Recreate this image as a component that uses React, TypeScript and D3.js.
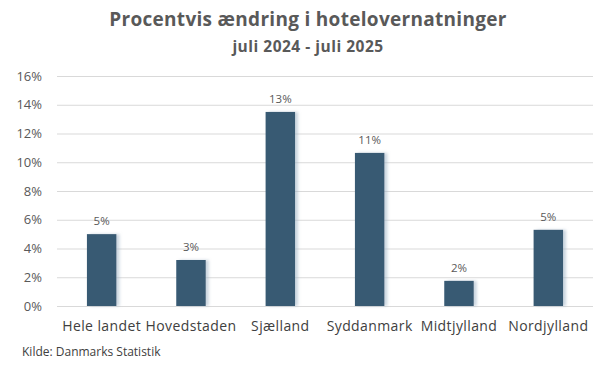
import {useEffect, useRef} from "react";
import * as d3 from "d3";

const regions = ["Hele landet", "Hovedstaden", "Sjælland", "Syddanmark", "Midtjylland", "Nordjylland"];
const changes = [5.0, 3.2, 13.5, 10.65, 1.75, 5.3];
const valueLabels = ["5%", "3%", "13%", "11%", "2%", "5%"];
const yTicks = [0, 2, 4, 6, 8, 10, 12, 14, 16];

export default function App() {
    const ref = useRef<SVGSVGElement>(null);

    useEffect(() => {
        const width = 616;
        const height = 366;
        const marginLeft = 57;
        const marginRight = 23;
        const marginTop = 76;
        const marginBottom = 60;
        const font = "'Open Sans', sans-serif";
        const textColor = "#595959";

        const svg = d3.select(ref.current!);
        svg.selectAll("*").remove();
        svg.attr("width", width).attr("height", height).attr("viewBox", [0, 0, width, height]);

        // shadow on the right side of bars
        const defs = svg.append("defs");
        const filter = defs.append("filter").attr("id", "shadow")
            .attr("x", "-20%").attr("y", "-5%").attr("width", "160%").attr("height", "110%");
        filter.append("feDropShadow")
            .attr("dx", 3).attr("dy", 0).attr("stdDeviation", 1.6)
            .attr("flood-color", "#9fb3c6").attr("flood-opacity", 0.55);

        const x = d3.scaleBand()
            .domain(regions)
            .range([marginLeft, width - marginRight])
            .paddingInner(0.67)
            .paddingOuter(0.335);

        const y = d3.scaleLinear()
            .domain([0, 16])
            .range([height - marginBottom, marginTop]);

        // gridlines
        svg.append("g")
            .selectAll("line")
            .data(yTicks)
            .join("line")
            .attr("x1", marginLeft)
            .attr("x2", width - marginRight)
            .attr("y1", d => y(d) + 0.5)
            .attr("y2", d => y(d) + 0.5)
            .attr("stroke", "#d9d9d9")
            .attr("stroke-width", 1);

        // y labels
        svg.append("g")
            .selectAll("text")
            .data(yTicks)
            .join("text")
            .attr("x", 42)
            .attr("y", d => y(d))
            .attr("dy", "0.35em")
            .attr("text-anchor", "end")
            .attr("font-family", font)
            .attr("font-size", 13)
            .attr("fill", textColor)
            .text(d => `${d}%`);

        // bars
        svg.append("g")
            .selectAll("rect")
            .data(regions)
            .join("rect")
            .attr("x", d => x(d)!)
            .attr("width", x.bandwidth())
            .attr("y", (d, i) => y(changes[i]))
            .attr("height", (d, i) => y(0) - y(changes[i]))
            .attr("fill", "#375a73")
            .attr("filter", "url(#shadow)");

        // value labels
        svg.append("g")
            .selectAll("text")
            .data(regions)
            .join("text")
            .attr("x", d => x(d)! + x.bandwidth() / 2)
            .attr("y", (d, i) => y(changes[i]) - 9)
            .attr("text-anchor", "middle")
            .attr("font-family", font)
            .attr("font-size", 11.5)
            .attr("fill", textColor)
            .text((d, i) => valueLabels[i]);

        // category labels
        svg.append("g")
            .selectAll("text")
            .data(regions)
            .join("text")
            .attr("x", d => x(d)! + x.bandwidth() / 2)
            .attr("y", 331)
            .attr("text-anchor", "middle")
            .attr("font-family", font)
            .attr("font-size", 14)
            .attr("letter-spacing", 0.4)
            .attr("fill", "#404040")
            .text(d => d);

        svg.append("text")
            .attr("x", width / 2)
            .attr("y", 26)
            .attr("text-anchor", "middle")
            .attr("font-family", font)
            .attr("font-weight", "bold")
            .attr("font-size", 19)
            .attr("letter-spacing", 0.3)
            .attr("fill", textColor)
            .text("Procentvis ændring i hotelovernatninger");

        svg.append("text")
            .attr("x", width / 2)
            .attr("y", 52)
            .attr("text-anchor", "middle")
            .attr("font-family", font)
            .attr("font-weight", "bold")
            .attr("font-size", 15.5)
            .attr("letter-spacing", 0.5)
            .attr("fill", textColor)
            .text("juli 2024 - juli 2025");

        svg.append("text")
            .attr("x", 22)
            .attr("y", 356)
            .attr("font-family", font)
            .attr("font-size", 12)
            .attr("fill", "#404040")
            .text("Kilde: Danmarks Statistik");
    }, []);

    return <svg ref={ref} style={{position: "absolute", left: 0, top: 0}}/>;
}
